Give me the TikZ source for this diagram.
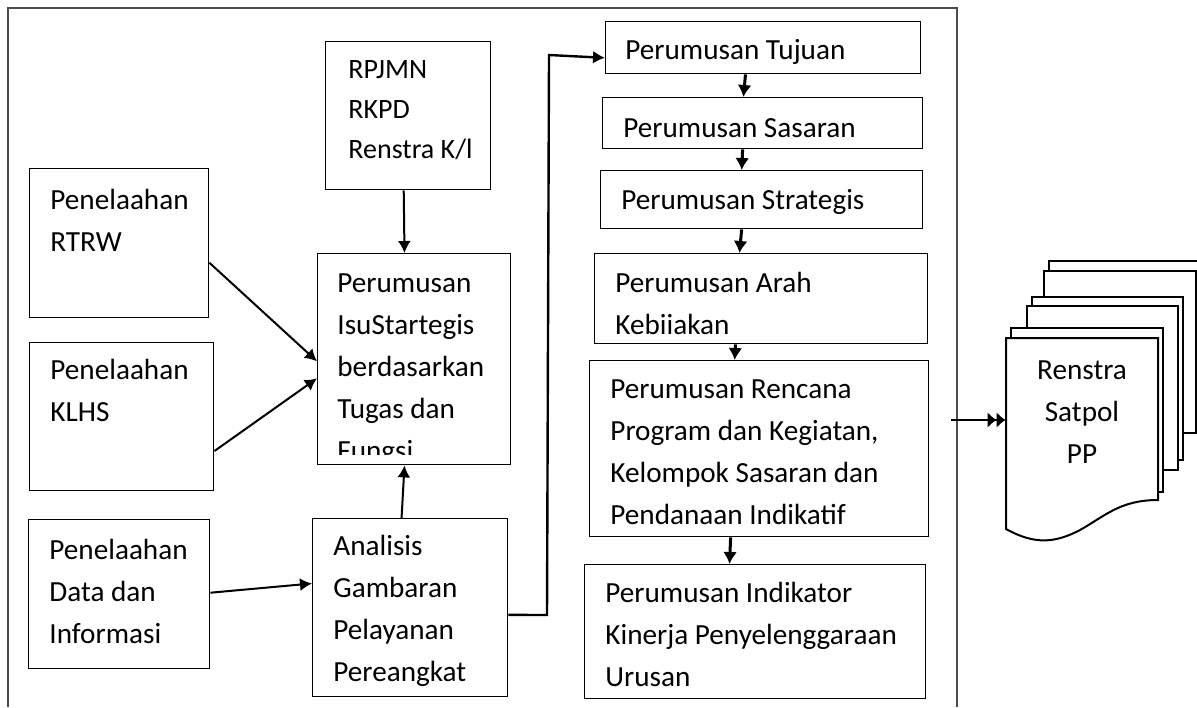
\documentclass[tikz,border=0pt]{standalone}
\usepackage{fontspec}
\setmainfont{Carlito}
\usepackage{tikz}
\usetikzlibrary{arrows.meta}
\usetikzlibrary{positioning}
\usetikzlibrary{calc}

\tikzset{
  kotak/.style={draw, line width=0.7pt, inner sep=0pt, anchor=north west},
  tulisan/.style={inner sep=0pt, anchor=base west, align=left, font=\fontsize{14.6}{20.9}\selectfont},
  panah/.style={-{Latex[length=6pt,width=6.5pt]}, line width=1pt},
  panahtebal/.style={-{Latex[length=6pt,width=7pt]}, line width=1.5pt},
  dok/.style={draw, line width=1pt, fill=white},
}

\begin{document}
\begin{tikzpicture}[x=0.5pt, y=-0.5pt]
\useasboundingbox (0,0) rectangle (1197,707);
\draw[black!70, line width=0.6pt] (8,707) -- (8,8) -- (957,8) -- (957,707);
% kolom kiri (tulisan diletakkan pada baris terakhir)
\path node[kotak, minimum width=82.5pt, minimum height=74pt] (rpjmn) at (325,41) {};
\path node[tulisan, font=\fontsize{14}{20}\selectfont] (trpjmn) at (348,158) {RPJMN\\RKPD\\Renstra K/l};
\path node[kotak, minimum width=89.5pt, minimum height=74.5pt] (rtrw) at (29,168) {};
\path node[tulisan] (trtrw) at (50,251) {Penelaahan\\RTRW};
\path node[kotak, minimum width=92pt, minimum height=74pt] (klhs) at (29,342) {};
\path node[tulisan] (tklhs) at (50,421) {Penelaahan\\KLHS};
\path node[kotak, minimum width=90.5pt, minimum height=74.5pt] (data) at (28,519) {};
\path node[tulisan] (tdata) at (49,643) {Penelaahan\\Data dan\\Informasi};
\path node[kotak, minimum width=97.5pt, minimum height=89pt] (analisis) at (312,518) {};
\path node[tulisan] (tanalisis) at (333,681) {Analisis\\Gambaran\\Pelayanan\\Pereangkat};
\path node[kotak, minimum width=96.5pt, minimum height=105.5pt] (isu) at (317,253) {};
\begin{scope}
\clip (317,253) rectangle (511,454);
\path node[tulisan] (tisu) at (337,460) {Perumusan\\IsuStartegis\\berdasarkan\\Tugas dan\\Fungsi};
\end{scope}
% kolom tengah
\path node[kotak, minimum width=157.5pt, minimum height=26pt] (tujuan) at (605,21) {};
\path node[tulisan] (ttujuan) at (625,59) {Perumusan Tujuan};
\path node[kotak, minimum width=160pt, minimum height=25.5pt] (sasaran) at (602,97) {};
\path node[tulisan] (tsasaran) at (623,137) {Perumusan Sasaran};
\path node[kotak, minimum width=161pt, minimum height=29pt] (strategis) at (600,170) {};
\path node[tulisan] (tstrategis) at (621,209) {Perumusan Strategis};
\path node[kotak, minimum width=166.5pt, minimum height=45pt] (arah) at (594,253) {};
\path node[tulisan] (tarah) at (615,334) {Perumusan Arah\\Kebiiakan};
\path node[kotak, minimum width=169.5pt, minimum height=88pt] (rencana) at (589,360) {};
\path node[tulisan] (trencana) at (610,524) {Perumusan Rencana\\Program dan Kegiatan,\\Kelompok Sasaran dan\\Pendanaan Indikatif};
\path node[kotak, minimum width=170.5pt, minimum height=67pt] (indikator) at (584,564) {};
\path node[tulisan] (tindikator) at (605,686) {Perumusan Indikator\\Kinerja Penyelenggaraan\\Urusan};
% dokumen renstra
\draw[dok] (1049,261) rectangle (1215,425);
\draw[dok] (1044,271) rectangle (1196,433);
\draw[dok] (1032,297) rectangle (1183,460);
\draw[dok] (1027,306) rectangle (1178,470);
\draw[dok] (1011,328) rectangle (1163,492);
\draw[dok] (1006,338) -- (1006,529) .. controls (1035,545) and (1055,543) .. (1080,530) .. controls (1105,516) and (1120,500) .. (1158,500) -- (1158,338) -- cycle;
\path node[align=center, inner sep=0pt, font=\fontsize{14.6}{20.9}\selectfont, minimum width=76pt] (renstra) at (1082,412) {Renstra\\Satpol\\PP};
% panah
\draw[panah] ($(rpjmn.south west)!.473!(rpjmn.south east)$) -- ($(isu.north west)!.45!(isu.north east)$);
\draw[panah] ($(rtrw.north east)!.63!(rtrw.south east)$) -- ($(isu.north west)!.51!(isu.south west)$);
\draw[panah] ($(klhs.north east)!.73!(klhs.south east)$) -- ($(isu.north west)!.59!(isu.south west)$);
\draw[panah] ($(data.north east)!.49!(data.south east)$) -- ($(analisis.north west)!.365!(analisis.south west)$);
\draw[panah] ($(analisis.north west)!.456!(analisis.north east)$) -- ($(isu.south west)!.45!(isu.south east)$);
\coordinate (belokA) at (547,615);
\coordinate (belokB) at (549,55);
\draw[panah, line width=1.2pt] ($(analisis.north east)!.54!(analisis.south east)$) -- (belokA) -- (belokB) -- ($(tujuan.north west)!.69!(tujuan.south west)$);
\draw[panahtebal] ($(tujuan.south west)!.444!(tujuan.south east)$) -- ($(sasaran.north west)!.44!(sasaran.north east)$);
\draw[panahtebal] ($(sasaran.south west)!.4375!(sasaran.south east)$) -- ($(strategis.north west)!.438!(strategis.north east)$);
\draw[panahtebal] ($(strategis.south west)!.438!(strategis.south east)$) -- ($(arah.north west)!.435!(arah.north east)$);
\draw[panahtebal] ($(arah.south west)!.423!(arah.south east)$) -- ($(rencana.north west)!.428!(rencana.north east)$);
\draw[panahtebal] ($(rencana.south west)!.416!(rencana.south east)$) -- ($(indikator.north west)!.425!(indikator.north east)$);
\coordinate (masuk) at (951,420);
\draw[line width=1pt, -{Latex[length=4.5pt,width=8pt]Latex[length=4.5pt,width=8pt]}] (masuk) -- (masuk -| renstra.west);
\end{tikzpicture}
\end{document}
